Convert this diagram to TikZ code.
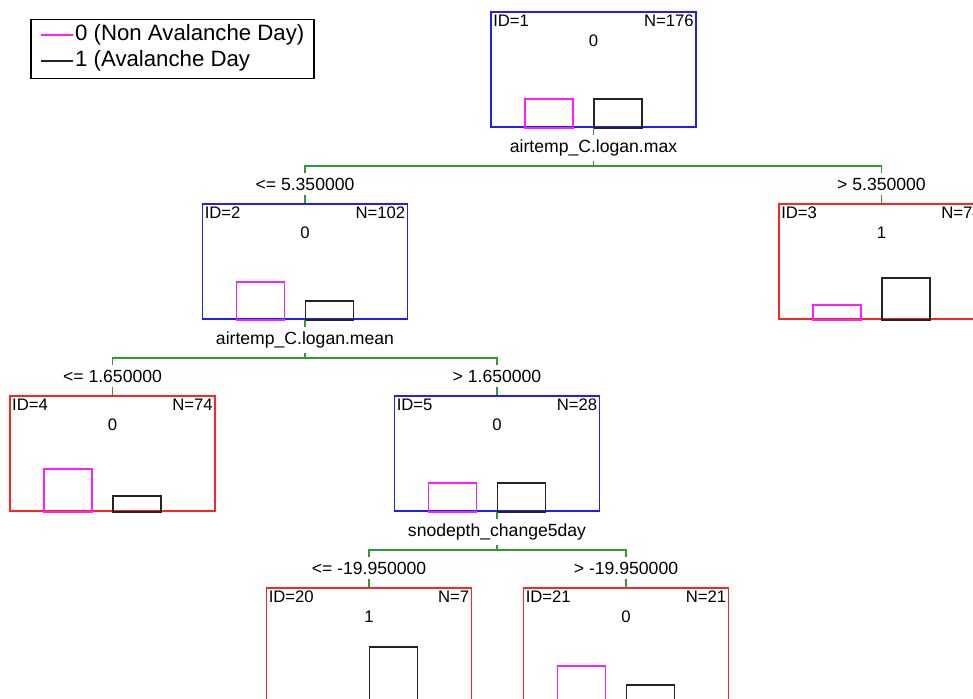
\documentclass[tikz,border=0pt]{standalone}
\usepackage{fontspec}
\setmainfont{Liberation Sans}
\usepackage{tikz}
\usetikzlibrary{calc}
\definecolor{boxblue}    {RGB}{30,  30, 255}
\definecolor{boxred}     {RGB}{255, 35,  35}
\definecolor{barpink}    {RGB}{255, 30, 255}
\definecolor{bardark}    {RGB}{35,  35,  35}
\definecolor{branchgreen}{RGB}{50, 155,  50}

\begin{document}
\begin{tikzpicture}[x=1pt, y=-1pt,
    treebox/.style={draw=#1, line width=1.9, minimum width=205, minimum height=115, inner sep=0},
    infotext/.style={font=\fontsize{16.7}{19}\selectfont, inner sep=0},
    splitlab/.style={font=\fontsize{17.6}{20}\selectfont, fill=white, inner xsep=1, inner ysep=5},
    branch/.style={branchgreen, line width=1.7},
    pinkbar/.style={barpink, line width=1.7},
    darkbar/.style={bardark, line width=1.7}]
  % page frame, cropped as in the figure
  \fill[white] (0,0) rectangle (973,698);
  \useasboundingbox (0,0) rectangle (973,698);
  \clip (0,0) rectangle (973,698);
  % legend
  \node[draw, line width=1.5, minimum width=283, minimum height=59, inner sep=0, anchor=north west] (legend) at (30,19) {};
  \draw[pinkbar] ($(legend.north west)+(11,16)$) -- ++(32,0) coordinate (k0);
  \draw[darkbar] ($(legend.north west)+(11,42)$) -- ++(32,0) coordinate (k1);
  \node[anchor=west, inner sep=2, font=\fontsize{22.2}{25}\selectfont] (lab0) at (k0) {0 (Non Avalanche Day)};
  \node[anchor=west, inner sep=2, font=\fontsize{22.2}{25}\selectfont] (lab1) at (k1) {1 (Avalanche Day};
  % tree nodes
  \node[treebox=boxblue] (n1)  at (593.5, 69.5) {};
  \node[treebox=boxblue] (n2)  at (305,  261.5) {};
  \node[treebox=boxred]  (n3)  at (881.5,261.5) {};
  \node[treebox=boxred]  (n4)  at (112.5,453.5) {};
  \node[treebox=boxblue] (n5)  at (497,  453.5) {};
  \node[treebox=boxred]  (n20) at (369,  645.5) {};
  \node[treebox=boxred]  (n21) at (626,  645.5) {};
  % id, count, class and class bars
  \foreach \n/\id/\cnt/\cls/\hp/\hb in {n1/1/176/0/29/29, n2/2/102/0/38/19, n3/3/74/1/15/42,
      n4/4/74/0/43/16, n5/5/28/0/29/29, n20/20/7/1/0/57, n21/21/21/0/38/19} {
    \node[infotext, anchor=base west] (id\n) at ($(\n.north west)+(3,15)$) {ID=\id};
    \node[infotext, anchor=base east] (cnt\n) at ($(\n.north east)+(-3,15)$) {N=\cnt};
    \node[infotext, anchor=base] (cls\n) at ($(\n.north)+(0,35)$) {\cls};
    \draw[pinkbar] ($(\n.south)+(-68.5,0)$) rectangle ++(48,-\hp);
    \draw[darkbar] ($(\n.south)+(0.5,0)$) rectangle ++(48,-\hb);
  }
  % splits
  \coordinate (s1) at ($(n1.south)+(0,38)$);
  \coordinate (s2) at ($(n2.south)+(0,38)$);
  \coordinate (s5) at ($(n5.south)+(0,38)$);
  \draw[branch] (n1.south) -- (s1);
  \draw[branch] (n2.north) -- (n2.north |- s1) -- (n3.north |- s1) -- (n3.north);
  \draw[branch] (n2.south) -- (s2);
  \draw[branch] (n4.north) -- (n4.north |- s2) -- (n5.north |- s2) -- (n5.north);
  \draw[branch] (n5.south) -- (s5);
  \draw[branch] (n20.north) -- (n20.north |- s5) -- (n21.north |- s5) -- (n21.north);
  % split variables
  \node[splitlab] (v1) at ($(n1.south)+(0,20)$) {airtemp\_C.logan.max};
  \node[splitlab] (v2) at ($(n2.south)+(0,20)$) {airtemp\_C.logan.mean};
  \node[splitlab] (v5) at ($(n5.south)+(0,20)$) {snodepth\_change5day};
  % split conditions
  \node[splitlab] (c2)  at ($(n2.north)+(0,-19)$)  {<= 5.350000};
  \node[splitlab] (c3)  at ($(n3.north)+(0,-19)$)  {> 5.350000};
  \node[splitlab] (c4)  at ($(n4.north)+(0,-19)$)  {<= 1.650000};
  \node[splitlab] (c5)  at ($(n5.north)+(0,-19)$)  {> 1.650000};
  \node[splitlab] (c20) at ($(n20.north)+(0,-19)$) {<= -19.950000};
  \node[splitlab] (c21) at ($(n21.north)+(0,-19)$) {> -19.950000};
\end{tikzpicture}
\end{document}
